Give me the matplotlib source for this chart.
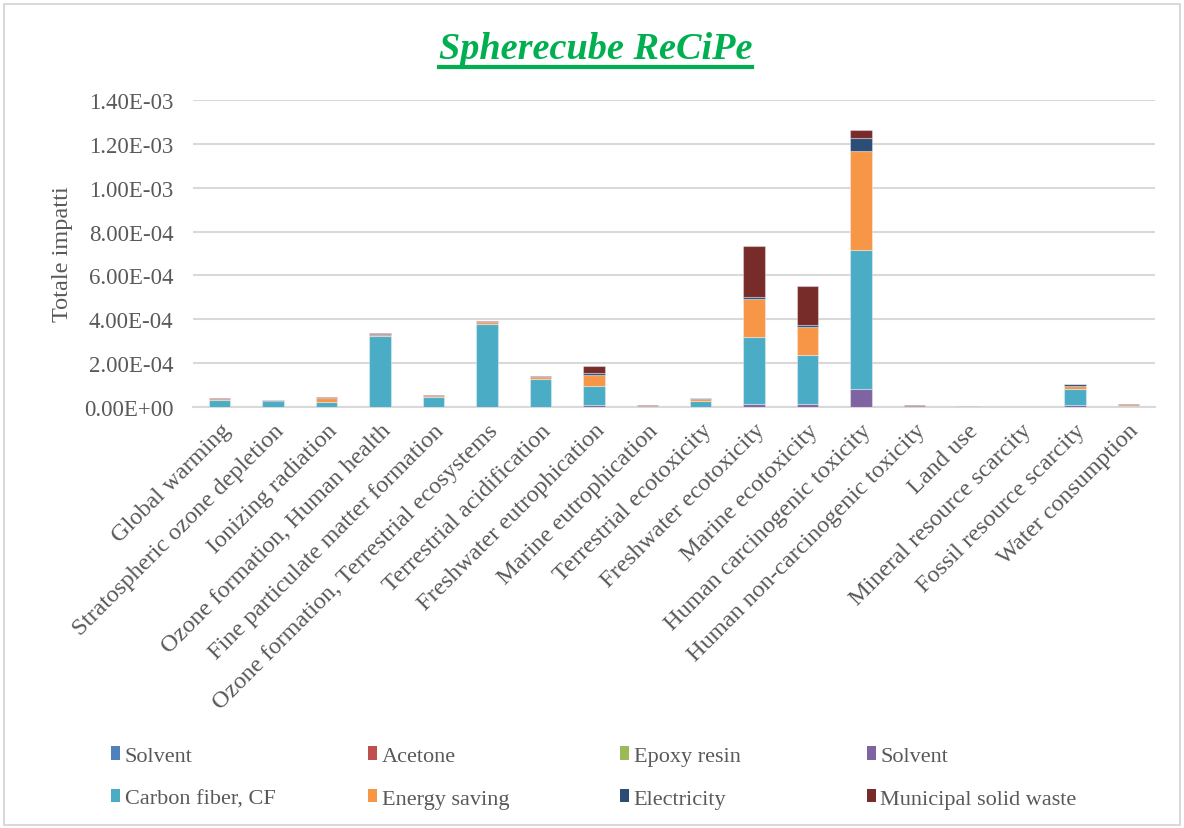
import numpy as np
import matplotlib
matplotlib.use("Agg")
import matplotlib.pyplot as plt
from matplotlib.lines import Line2D
from matplotlib.patches import Rectangle, Patch
from matplotlib.ticker import FuncFormatter

plt.rcParams['font.family'] = ['Liberation Serif', 'DejaVu Serif']

categories = [
    "Global warming", "Stratospheric ozone depletion", "Ionizing radiation",
    "Ozone formation, Human health", "Fine particulate matter formation",
    "Ozone formation, Terrestrial ecosystems", "Terrestrial acidification",
    "Freshwater eutrophication", "Marine eutrophication", "Terrestrial ecotoxicity",
    "Freshwater ecotoxicity", "Marine ecotoxicity", "Human carcinogenic toxicity",
    "Human non-carcinogenic toxicity", "Land use", "Mineral resource scarcity",
    "Fossil resource scarcity", "Water consumption",
]

# impact contributions, in units of 1e-5
solvent_a = [0] * 18
acetone = [0] * 18
epoxy_resin = [0] * 18
solvent_b = [0.1, 0.0, 0.1, 0.2, 0.1, 0.2, 0.1, 1.0, 0.05, 0.1, 1.6, 1.2, 8.3, 0.05, 0.05, 0.02, 1.1, 0.2]
carbon_fiber = [3.0, 2.9, 2.4, 32.2, 4.7, 37.6, 12.9, 8.8, 0.2, 2.7, 30.5, 22.5, 63.3, 0.1, 0.1, 0.05, 7.1, 0.3]
energy_saving = [0.4, 0.0, 1.4, 0.6, 0.3, 1.0, 0.6, 4.9, 0.05, 1.0, 17.0, 12.7, 45.0, 0.05, 0.05, 0.02, 1.2, 0.2]
electricity = [0.2, 0.3, 0.4, 0.1, 0.1, 0.1, 0.1, 1.0, 0.05, 0.1, 1.2, 1.0, 6.1, 0.05, 0.05, 0.01, 0.9, 0.1]
msw = [0.3, 0.0, 0.3, 0.5, 0.4, 0.4, 0.5, 3.2, 0.45, 0.4, 23.2, 17.6, 3.8, 0.5, 0.1, 0.05, 0.4, 0.4]

series = [
    ("Solvent", solvent_a, "#4F81BD"),
    ("Acetone", acetone, "#C0504D"),
    ("Epoxy resin", epoxy_resin, "#9BBB59"),
    ("Solvent", solvent_b, "#8064A2"),
    ("Carbon fiber, CF", carbon_fiber, "#4BACC6"),
    ("Energy saving", energy_saving, "#F79646"),
    ("Electricity", electricity, "#2C4D75"),
    ("Municipal solid waste", msw, "#772C2A"),
]

text_color = "#595959"
grid_color = "#D9D9D9"

fig = plt.figure(figsize=(11.84, 8.29), dpi=100)
ax = fig.add_axes([0.163, 0.5078, 0.8125, 0.3704])

x = np.arange(len(categories))
bottom = np.zeros(len(categories))
for name, vals, color in series:
    v = np.array(vals) * 1e-5
    ax.bar(x, v, width=0.4, bottom=bottom, color=color,
           edgecolor=(1, 1, 1, 0.35), linewidth=0.8, zorder=3)
    bottom += v

ax.set_xlim(-0.5, len(categories) - 0.5)
ax.set_ylim(0, 1.4e-3)
ax.set_yticks(np.arange(0, 1.41e-3, 2e-4))
ax.yaxis.set_major_formatter(FuncFormatter(lambda v, p: f"{v:.2E}"))
ax.grid(axis='y', color=grid_color, linewidth=1.5, zorder=0)
for s in ['top', 'right', 'left']:
    ax.spines[s].set_visible(False)
ax.spines['bottom'].set_color(grid_color)
ax.spines['bottom'].set_linewidth(1.5)
ax.tick_params(axis='both', length=0, labelsize=16.5, colors=text_color, pad=14)
ax.set_xticks(x)
ax.set_xticklabels(categories, rotation=45, ha='right', va='top',
                   rotation_mode='anchor', fontsize=17.5, color=text_color)
ax.tick_params(axis='x', pad=9)
ax.set_ylabel("Totale impatti", fontsize=17.5, color=text_color, labelpad=8)

title = fig.text(0.503, 0.94, "Spherecube ReCiPe", ha='center', va='center',
                 fontsize=27.5, fontweight='bold', fontstyle='italic', color="#00B050")

# legend laid out as 4 columns, 2 rows (row-wise order)
col_x = [0.094, 0.311, 0.524, 0.732]
for c in range(4):
    hs = []
    for r in range(2):
        name, vals, color = series[r * 4 + c]
        hs.append(Patch(facecolor=color, label=name))
    fig.legend(handles=hs, loc='center left', bbox_to_anchor=(col_x[c], 0.061),
               frameon=False, fontsize=16, handlelength=0.4, handleheight=0.55,
               handletextpad=0.2, labelspacing=1.05, labelcolor=text_color,
               borderpad=0, borderaxespad=0)

# underline under the title
fig.canvas.draw()
bb = title.get_window_extent()
W, H = fig.get_size_inches() * fig.dpi
yline = (bb.y0 - 1) / H
fig.add_artist(Line2D([bb.x0 / W, bb.x1 / W], [yline, yline], color="#00B050", linewidth=3))

fig.add_artist(Rectangle((0.003, 0.004), 0.994, 0.99, transform=fig.transFigure,
                         fill=False, edgecolor=grid_color, linewidth=1.5))

fig.savefig("out.png", dpi=100)
